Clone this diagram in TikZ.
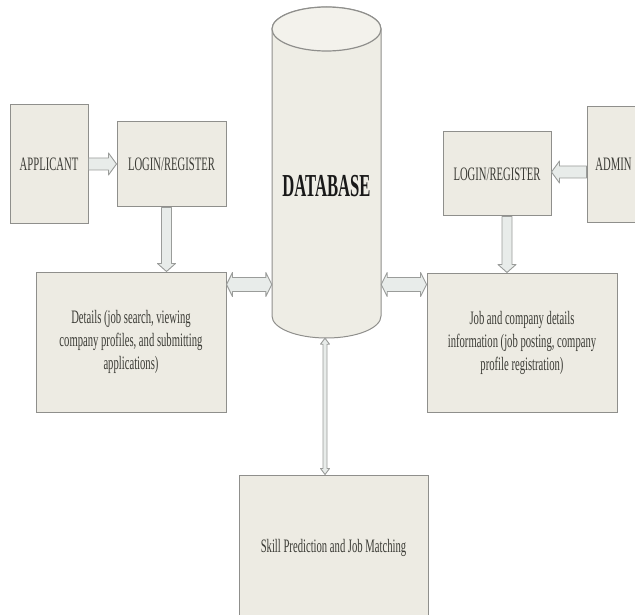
\documentclass[tikz,border=0pt]{standalone}
\usepackage{fontspec}
\setmainfont{Liberation Serif}
\newfontfamily\condfont[FakeStretch=0.56]{Liberation Serif}
\newfontfamily\dbfont[FakeStretch=0.52]{Liberation Serif}
\usetikzlibrary{calc}
\definecolor{boxfill}{HTML}{EDEBE3}
\definecolor{boxline}{HTML}{8F8F8C}
\definecolor{txt}{HTML}{3C3C36}
\definecolor{arrfill}{HTML}{E8ECEA}
\definecolor{arrline}{HTML}{9A9C9A}
\definecolor{dbfill}{HTML}{EEEDE5}
\definecolor{dbtop}{HTML}{F3F2EC}
\newcommand\blockarr[5]{%
  \coordinate (hb) at ($(#2)!#5!(#1)$);
  \filldraw[arrowsty] ($(#1)!#3!90:(#2)$) -- ($(hb)!#3!90:(#2)$) -- ($(hb)!#4!90:(#2)$) -- (#2)
    -- ($(hb)!#4!-90:(#2)$) -- ($(hb)!#3!-90:(#2)$) -- ($(#1)!#3!-90:(#2)$) -- cycle;}
\newcommand\blockdarr[5]{%
  \coordinate (hb) at ($(#2)!#5!(#1)$);
  \coordinate (ha) at ($(#1)!#5!(#2)$);
  \filldraw[arrowsty] (#1) -- ($(ha)!#4!90:(#2)$) -- ($(ha)!#3!90:(#2)$) -- ($(hb)!#3!90:(#2)$)
    -- ($(hb)!#4!90:(#2)$) -- (#2) -- ($(hb)!#4!-90:(#2)$) -- ($(hb)!#3!-90:(#2)$)
    -- ($(ha)!#3!-90:(#2)$) -- ($(ha)!#4!-90:(#2)$) -- cycle;}
\begin{document}
\begin{tikzpicture}[x=1pt,y=1pt,
  box/.style={draw=boxline, fill=boxfill, line width=1pt, inner sep=0pt,
    font=\condfont\fontsize{19}{23}\selectfont, text=txt, align=center},
  arrowsty/.style={draw=arrline, fill=arrfill, line width=0.9pt, line join=round},
  cylsty/.style={draw=boxline, fill=dbfill, line width=1pt},
  cyltop/.style={draw=boxline, fill=dbtop, line width=1.2pt}]
\useasboundingbox (0,0) rectangle (635,-615);
\fill[white] (0,0) rectangle (635,-615);
% database cylinder
\filldraw[cylsty] (272,-29) -- (272,-316) arc[start angle=180, end angle=360, x radius=54.5, y radius=22]
  -- (381,-29) arc[start angle=0, end angle=180, x radius=54.5, y radius=22] -- cycle;
\filldraw[cyltop] (326.5,-29) ellipse [x radius=54.5, y radius=22];
\node[inner sep=0pt, minimum width=109, minimum height=304,
  font=\dbfont\bfseries\fontsize{32}{32}\selectfont, text=black!90] (db) at (326.5,-186) {DATABASE};
% boxes
\node[box, minimum width=78, minimum height=118] (app) at (49,-164) {APPLICANT};
\node[box, minimum width=109, minimum height=85] (loginL) at (171.5,-164.5) {LOGIN/REGISTER};
\node[box, minimum width=190, minimum height=140] (details) at (131,-342)
  {Details (job search, viewing\\company profiles, and submitting\\applications)};
\node[box, minimum width=108, minimum height=84] (loginR) at (497,-174) {LOGIN/REGISTER};
\node[box, minimum width=53, minimum height=115] (admin) at (613.5,-164.5) {ADMIN};
\node[box, minimum width=190, minimum height=139] (job) at (522,-342.5)
  {Job and company details\\information (job posting, company\\profile registration)};
\node[box, minimum width=189, minimum height=146] (skill) at (333.5,-548) {Skill Prediction and Job Matching};
% arrows
\coordinate (a1) at (app.east);
\coordinate (a2) at (app.east -| loginL.west);
\blockarr{a1}{a2}{6pt}{11pt}{8pt}
\coordinate (b1) at ($(loginL.south)+(-5,0)$);
\coordinate (b2) at (b1 |- details.north);
\blockarr{b1}{b2}{5pt}{9pt}{8pt}
\coordinate (c1) at ($(details.north east)+(0,-13)$);
\coordinate (c2) at (c1 -| db.west);
\blockdarr{c1}{c2}{7pt}{12pt}{6pt}
\coordinate (d1) at ($(loginR.east -| admin.west)+(0,2)$);
\coordinate (d2) at ($(loginR.east)+(0,2)$);
\blockarr{d1}{d2}{6pt}{11pt}{8pt}
\coordinate (e1) at ($(loginR.south)+(10,0)$);
\coordinate (e2) at (e1 |- job.north);
\blockarr{e1}{e2}{5pt}{9pt}{8pt}
\coordinate (f1) at (c1 -| db.east);
\coordinate (f2) at (c1 -| job.west);
\blockdarr{f1}{f2}{7pt}{12pt}{6pt}
\coordinate (g1) at ($(db.south)+(-1.5,0)$);
\coordinate (g2) at (g1 |- skill.north);
\blockdarr{g1}{g2}{2pt}{4.5pt}{6pt}
\end{tikzpicture}
\end{document}
